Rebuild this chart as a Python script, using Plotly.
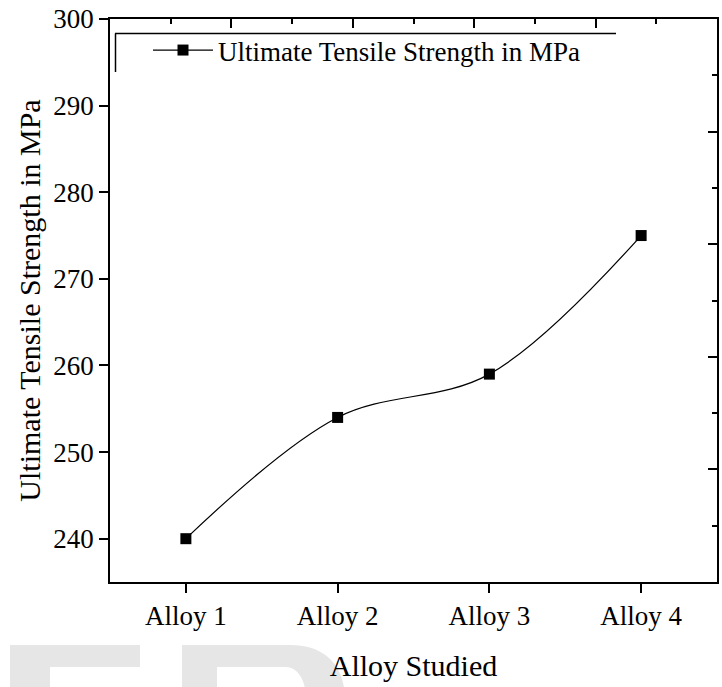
import plotly.graph_objects as go

categories = ["Alloy 1", "Alloy 2", "Alloy 3", "Alloy 4"]
uts_mpa = [240, 254, 259, 275]
y_ticks = [240, 250, 260, 270, 280, 290, 300]
series_name = "Ultimate Tensile Strength in MPa"
x_title = "Alloy Studied"
y_title = "Ultimate Tensile Strength in MPa"

W, H = 722, 687
L, R, T, B = 110, 5, 19, 105
PW, PH = W - L - R, H - T - B


def px(x):
    return (x - L) / PW


def py(y):
    return (H - B - y) / PH


def path(cmds):
    out = []
    for c, pts in cmds:
        out.append(c + " " + " ".join(f"{px(a):.4f},{py(b):.4f}" for a, b in pts))
    return " ".join(out) + " Z"


FONT = "Liberation Serif"

fig = go.Figure()
fig.add_trace(go.Scatter(
    x=list(range(len(categories))), y=uts_mpa, mode="lines+markers",
    name=series_name,
    line=dict(color="black", width=1.2, shape="spline", smoothing=1.0),
    marker=dict(symbol="square", size=11, color="black"),
))
fig.add_trace(go.Scatter(x=[None], y=[None], xaxis="x2", yaxis="y2", showlegend=False))

fig.update_layout(
    width=W, height=H,
    margin=dict(l=L, r=R, t=T, b=B),
    paper_bgcolor="white", plot_bgcolor="white",
    font=dict(family=FONT, color="black", size=27),
    showlegend=True,
    legend=dict(x=px(148), y=py(26), xanchor="left", yanchor="top",
                bgcolor="rgba(0,0,0,0)", borderwidth=0,
                font=dict(family=FONT, size=27), itemwidth=60),
    xaxis=dict(
        range=[-0.5, 3.5], tickmode="array",
        tickvals=list(range(len(categories))), ticktext=categories,
        ticks="outside", ticklen=9, tickwidth=1.5, tickcolor="black",
        showline=True, linecolor="black", linewidth=1.5, mirror=False,
        showgrid=False, zeroline=False,
        tickfont=dict(family=FONT, size=27),
        title=dict(text=x_title, font=dict(family=FONT, size=30), standoff=25),
    ),
    yaxis=dict(
        range=[235, 300], tickmode="array", tickvals=y_ticks,
        ticks="outside", ticklen=9, tickwidth=1.5, tickcolor="black",
        showline=True, linecolor="black", linewidth=1.5,
        showgrid=False, zeroline=False,
        tickfont=dict(family=FONT, size=27),
        title=dict(text=y_title, font=dict(family=FONT, size=30), standoff=4),
    ),
    xaxis2=dict(
        overlaying="x", side="top", range=[0, 5], dtick=1,
        ticks="inside", ticklen=9, tickwidth=1.5, tickcolor="black",
        minor=dict(dtick=0.5, ticks="inside", ticklen=5, tickwidth=1.5, tickcolor="black"),
        showticklabels=False, showline=True, linecolor="black", linewidth=1.5,
        showgrid=False, zeroline=False,
    ),
    yaxis2=dict(
        overlaying="y", side="right", range=[0, 5], dtick=1,
        ticks="inside", ticklen=9, tickwidth=1.5, tickcolor="black",
        minor=dict(dtick=0.5, ticks="inside", ticklen=5, tickwidth=1.5, tickcolor="black"),
        showticklabels=False, showline=True, linecolor="black", linewidth=1.5,
        showgrid=False, zeroline=False,
    ),
)

# partial legend frame
fig.add_shape(type="line", xref="paper", yref="paper",
              x0=px(115), x1=px(616), y0=py(33.5), y1=py(33.5),
              line=dict(color="black", width=1.5))
fig.add_shape(type="line", xref="paper", yref="paper",
              x0=px(115.5), x1=px(115.5), y0=py(33.5), y1=py(72),
              line=dict(color="black", width=1.5))

# faint watermark letters at the bottom
wm = "#e6e6e6"
fig.add_shape(type="path", xref="paper", yref="paper", layer="below",
              path=path([("M", [(10, 645)]), ("L", [(140, 645)]), ("L", [(140, 667)]),
                         ("L", [(50, 667)]), ("L", [(50, 700)]), ("L", [(10, 700)])]),
              fillcolor=wm, line=dict(width=0))
fig.add_shape(type="path", xref="paper", yref="paper", layer="below",
              path=path([("M", [(182, 645)]), ("L", [(290, 645)]),
                         ("C", [(325, 645), (345, 665), (345, 700)]),
                         ("L", [(306, 700)]),
                         ("C", [(306, 680), (298, 667), (285, 667)]),
                         ("L", [(217, 667)]), ("L", [(217, 700)]), ("L", [(182, 700)])]),
              fillcolor=wm, line=dict(width=0))

fig.write_html("out.html")
